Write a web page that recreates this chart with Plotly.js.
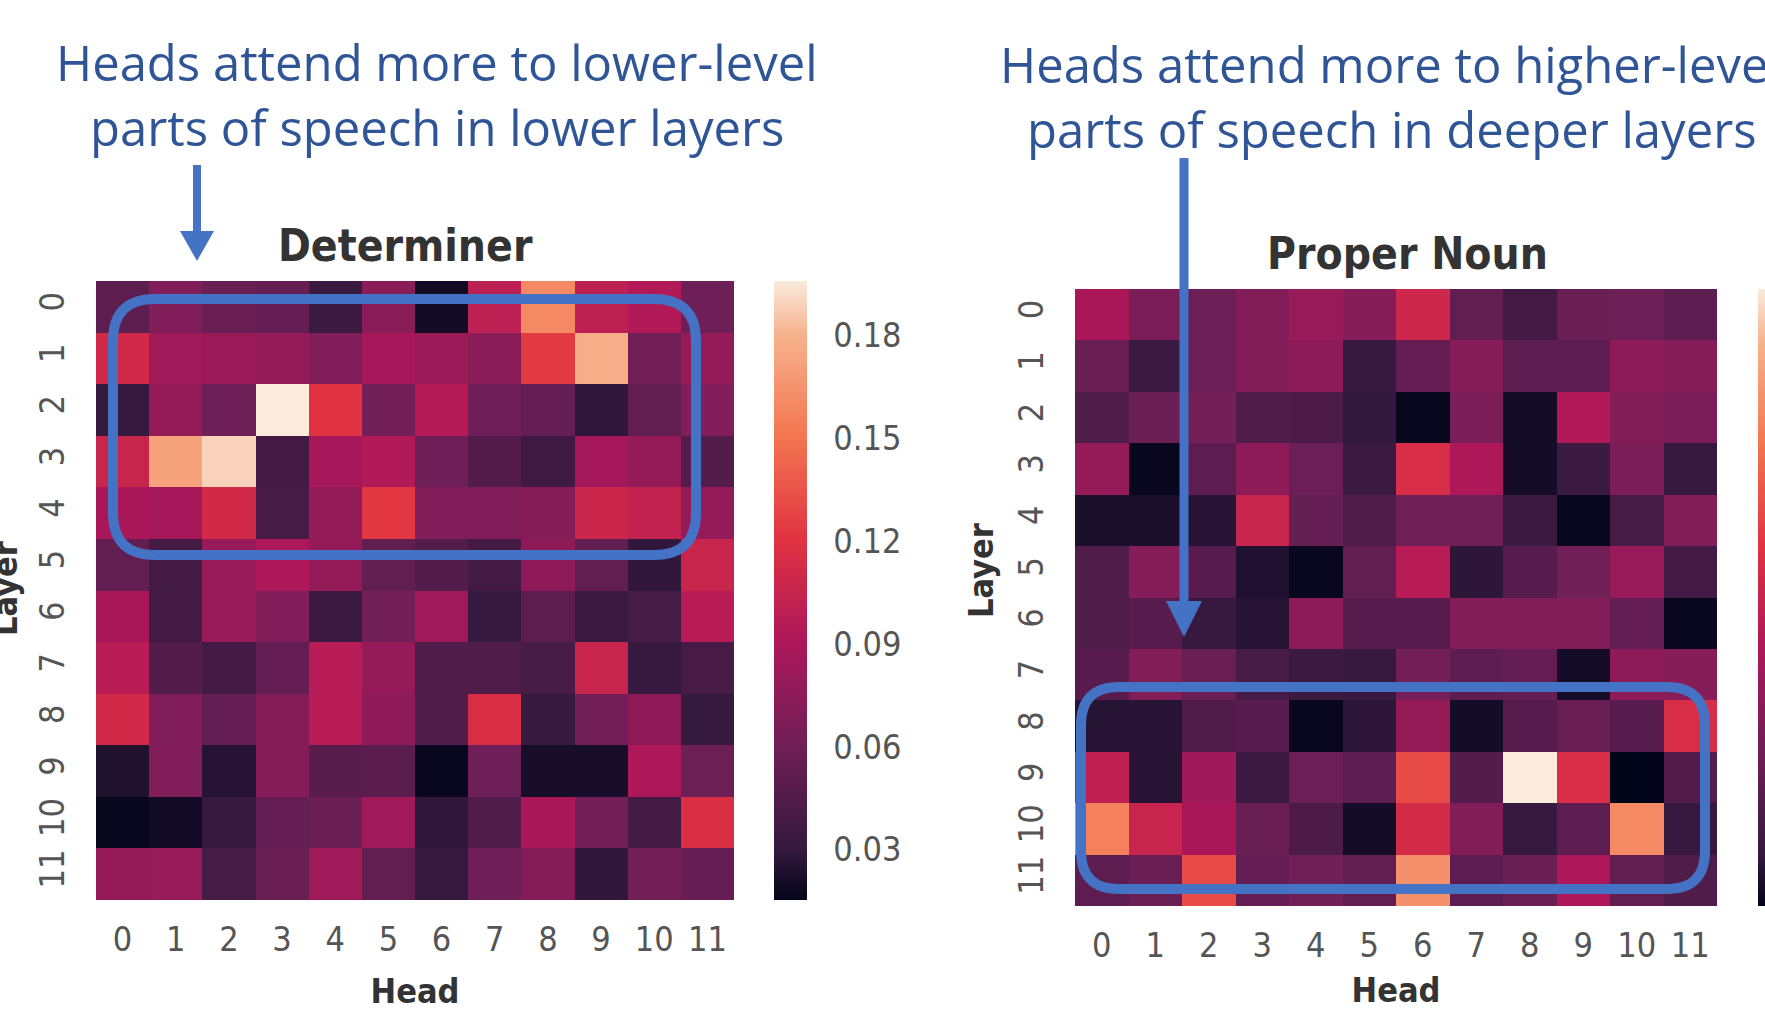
<!DOCTYPE html>
<html>
<head>
<meta charset="utf-8">
<script src="https://cdn.plot.ly/plotly-3.0.1.min.js"></script>
<style>html,body{margin:0;padding:0;background:#fff;}#chart{width:1765px;height:1017px;}</style>
</head>
<body>
<div id="chart"></div>
<script>
// ---------- data ----------
const heads = [0, 1, 2, 3, 4, 5, 6, 7, 8, 9, 10, 11];
const layers = [0, 1, 2, 3, 4, 5, 6, 7, 8, 9, 10, 11];
const headLabels = ['0','1','2','3','4','5','6','7','8','9','10','11'];
const layerLabels = ['0','1','2','3','4','5','6','7','8','9','10','11'];

// Determiner attention (rows = layers 0..11, cols = heads 0..11)
const determinerValues = [
  [0.051,0.069,0.057,0.055,0.033,0.073,0.020,0.100,0.160,0.100,0.093,0.060],
  [0.111,0.084,0.082,0.077,0.069,0.087,0.082,0.073,0.124,0.178,0.062,0.078],
  [0.031,0.078,0.060,0.196,0.120,0.062,0.095,0.060,0.055,0.029,0.053,0.069],
  [0.106,0.172,0.189,0.037,0.087,0.093,0.060,0.046,0.035,0.086,0.078,0.046],
  [0.089,0.086,0.111,0.039,0.078,0.122,0.069,0.069,0.071,0.107,0.102,0.078],
  [0.053,0.037,0.080,0.091,0.078,0.053,0.046,0.037,0.075,0.053,0.029,0.106],
  [0.089,0.037,0.080,0.069,0.033,0.062,0.084,0.031,0.051,0.033,0.039,0.096],
  [0.096,0.046,0.037,0.055,0.096,0.078,0.044,0.044,0.039,0.106,0.031,0.040],
  [0.111,0.069,0.055,0.071,0.096,0.075,0.044,0.115,0.031,0.062,0.075,0.031],
  [0.024,0.069,0.026,0.071,0.048,0.049,0.017,0.060,0.022,0.022,0.091,0.058],
  [0.017,0.020,0.031,0.055,0.057,0.084,0.029,0.044,0.089,0.062,0.037,0.116],
  [0.078,0.080,0.039,0.057,0.084,0.053,0.031,0.060,0.071,0.029,0.062,0.055]
];

// Proper Noun attention (rows = layers 0..11, cols = heads 0..11)
const properNounValues = [
  [0.092,0.066,0.058,0.070,0.082,0.072,0.114,0.052,0.034,0.056,0.058,0.050],
  [0.056,0.030,0.058,0.070,0.076,0.028,0.054,0.072,0.050,0.050,0.076,0.072],
  [0.042,0.056,0.062,0.042,0.040,0.026,0.012,0.066,0.016,0.096,0.070,0.066],
  [0.080,0.012,0.050,0.076,0.058,0.030,0.120,0.094,0.016,0.030,0.066,0.028],
  [0.018,0.018,0.022,0.110,0.054,0.042,0.060,0.060,0.030,0.012,0.036,0.070],
  [0.042,0.072,0.046,0.020,0.012,0.052,0.100,0.024,0.046,0.060,0.082,0.034],
  [0.042,0.046,0.028,0.022,0.076,0.046,0.046,0.070,0.070,0.070,0.054,0.012],
  [0.046,0.070,0.056,0.036,0.030,0.028,0.062,0.050,0.054,0.016,0.076,0.072],
  [0.022,0.022,0.042,0.046,0.012,0.024,0.080,0.016,0.046,0.056,0.046,0.120],
  [0.104,0.022,0.086,0.030,0.058,0.050,0.138,0.044,0.210,0.120,0.010,0.044],
  [0.166,0.110,0.092,0.056,0.040,0.016,0.118,0.070,0.028,0.050,0.170,0.028],
  [0.050,0.056,0.138,0.054,0.060,0.052,0.174,0.050,0.056,0.094,0.052,0.042]
];

const colorbarTickVals = [0.03, 0.06, 0.09, 0.12, 0.15, 0.18];
const colorbarTickText = ['0.03', '0.06', '0.09', '0.12', '0.15', '0.18'];

const titles = ['Determiner', 'Proper Noun'];
const noteLeft = ['Heads attend more to lower-level', 'parts of speech in lower layers'];
const noteRight = ['Heads attend more to higher-level', 'parts of speech in deeper layers'];

// ---------- styling ----------
const W = 1765, H = 1017;
const X = p => p / W;
const Y = p => 1 - p / H;
const rocket = [
  [0.0, '#03051A'], [0.083, '#35193E'], [0.25, '#701F57'], [0.417, '#AD1759'],
  [0.583, '#E13342'], [0.75, '#F37651'], [0.917, '#F6B48F'], [1.0, '#FAEBDD']
];
const tickFamily = '"DejaVu Sans Condensed", "DejaVu Sans", sans-serif';
const tickFont = {family: tickFamily, size: 34, color: '#555555'};
const boldFont = {family: tickFamily, size: 34, color: '#333333', weight: 'bold'};
const blue = '#4472C4';
const noteColor = '#2F5597';

const traces = [
  {
    type: 'heatmap', x: heads, y: layers, z: determinerValues,
    xaxis: 'x', yaxis: 'y', colorscale: rocket, zmin: 0.0153, zmax: 0.1957,
    zsmooth: false,
    colorbar: {
      x: X(774), xanchor: 'left', xref: 'paper', thickness: 33, thicknessmode: 'pixels',
      y: Y((281 + 900) / 2), yanchor: 'middle', len: (900 - 281) / H, lenmode: 'fraction',
      outlinewidth: 0, tickvals: colorbarTickVals, ticktext: colorbarTickText,
      ticks: 'outside', ticklen: 20, tickcolor: 'rgba(0,0,0,0)',
      tickfont: tickFont, xpad: 0, ypad: 0
    }
  },
  {
    type: 'heatmap', x: heads, y: layers, z: properNounValues,
    xaxis: 'x2', yaxis: 'y2', colorscale: rocket, zmin: 0.01, zmax: 0.21,
    zsmooth: false,
    colorbar: {
      x: X(1758), xanchor: 'left', xref: 'paper', thickness: 33, thicknessmode: 'pixels',
      y: Y((289 + 906) / 2), yanchor: 'middle', len: (906 - 289) / H, lenmode: 'fraction',
      outlinewidth: 0, showticklabels: false, ticks: '', xpad: 0, ypad: 0
    }
  }
];

function xAxis(d0, d1, anchor, standoff) {
  return {
    domain: [X(d0), X(d1)], anchor: anchor, tickmode: 'array', tickvals: heads, ticktext: headLabels,
    ticks: '', showgrid: false, zeroline: false, showline: false, tickfont: tickFont,
    ticklabelstandoff: 16, fixedrange: true, automargin: false,
    title: {text: 'Head', font: boldFont, standoff: standoff}
  };
}
function yAxis(d0, d1, anchor) {
  return {
    domain: [Y(d1), Y(d0)], anchor: anchor, autorange: 'reversed', tickmode: 'array',
    tickvals: layers, ticktext: layerLabels, tickangle: -90,
    ticks: '', showgrid: false, zeroline: false, showline: false, tickfont: tickFont,
    ticklabelstandoff: 24, fixedrange: true, automargin: false
  };
}

function roundedRect(x0, y0, x1, y1, r) {
  const a = (px, py) => X(px) + ',' + Y(py);
  return 'M' + a(x0 + r, y0) + ' L' + a(x1 - r, y0) + ' Q' + a(x1, y0) + ' ' + a(x1, y0 + r) +
    ' L' + a(x1, y1 - r) + ' Q' + a(x1, y1) + ' ' + a(x1 - r, y1) +
    ' L' + a(x0 + r, y1) + ' Q' + a(x0, y1) + ' ' + a(x0, y1 - r) +
    ' L' + a(x0, y0 + r) + ' Q' + a(x0, y0) + ' ' + a(x0 + r, y0) + ' Z';
}
function arrowHead(cx, yTop, yTip, w) {
  return 'M' + X(cx - w / 2) + ',' + Y(yTop) + ' L' + X(cx + w / 2) + ',' + Y(yTop) +
    ' L' + X(cx) + ',' + Y(yTip) + ' Z';
}

const shapes = [
  {type: 'path', xref: 'paper', yref: 'paper', path: roundedRect(113, 299, 696, 555, 42),
   line: {color: blue, width: 10}, fillcolor: 'rgba(0,0,0,0)'},
  {type: 'path', xref: 'paper', yref: 'paper', path: roundedRect(1081, 687, 1705, 889, 38),
   line: {color: blue, width: 10}, fillcolor: 'rgba(0,0,0,0)'},
  {type: 'line', xref: 'paper', yref: 'paper', x0: X(197), x1: X(197), y0: Y(165), y1: Y(236),
   line: {color: blue, width: 8}},
  {type: 'path', xref: 'paper', yref: 'paper', path: arrowHead(197, 231, 261, 34),
   line: {width: 0}, fillcolor: blue},
  {type: 'line', xref: 'paper', yref: 'paper', x0: X(1184), x1: X(1184), y0: Y(158), y1: Y(606),
   line: {color: blue, width: 9}},
  {type: 'path', xref: 'paper', yref: 'paper', path: arrowHead(1184, 601, 637, 36),
   line: {width: 0}, fillcolor: blue}
];

const noteFont = {family: '"Open Sans", sans-serif', size: 49, color: noteColor};
const annotations = [
  {text: titles[0], xref: 'paper', yref: 'paper', x: X(405), y: Y(245), xanchor: 'center', yanchor: 'middle',
   showarrow: false, font: {family: tickFamily, size: 44, color: '#333333', weight: 'bold'}},
  {text: titles[1], xref: 'paper', yref: 'paper', x: X(1407), y: Y(253), xanchor: 'center', yanchor: 'middle',
   showarrow: false, font: {family: tickFamily, size: 44, color: '#333333', weight: 'bold'}},
  {text: 'Layer', xref: 'paper', yref: 'paper', x: X(5), y: Y(588), xanchor: 'center', yanchor: 'middle',
   textangle: -90, showarrow: false, font: boldFont},
  {text: 'Layer', xref: 'paper', yref: 'paper', x: X(981), y: Y(570), xanchor: 'center', yanchor: 'middle',
   textangle: -90, showarrow: false, font: boldFont},
  {text: noteLeft[0], xref: 'paper', yref: 'paper', x: X(54), y: Y(62), xanchor: 'left', yanchor: 'middle',
   showarrow: false, font: noteFont},
  {text: noteLeft[1], xref: 'paper', yref: 'paper', x: X(88), y: Y(127), xanchor: 'left', yanchor: 'middle',
   showarrow: false, font: noteFont},
  {text: noteRight[0], xref: 'paper', yref: 'paper', x: X(998), y: Y(64), xanchor: 'left', yanchor: 'middle',
   showarrow: false, font: noteFont},
  {text: noteRight[1], xref: 'paper', yref: 'paper', x: X(1025), y: Y(129), xanchor: 'left', yanchor: 'middle',
   showarrow: false, font: noteFont}
];

const layout = {
  width: W, height: H, margin: {l: 0, r: 0, t: 0, b: 0, pad: 0, autoexpand: false},
  paper_bgcolor: '#ffffff', plot_bgcolor: '#ffffff', showlegend: false,
  xaxis: xAxis(96, 734, 'y', 21),
  yaxis: yAxis(281, 900, 'x'),
  xaxis2: xAxis(1075, 1717, 'y2', 14),
  yaxis2: yAxis(289, 906, 'x2'),
  shapes: shapes,
  annotations: annotations
};

Plotly.newPlot('chart', traces, layout, {displayModeBar: false, staticPlot: true});
</script>
</body>
</html>
